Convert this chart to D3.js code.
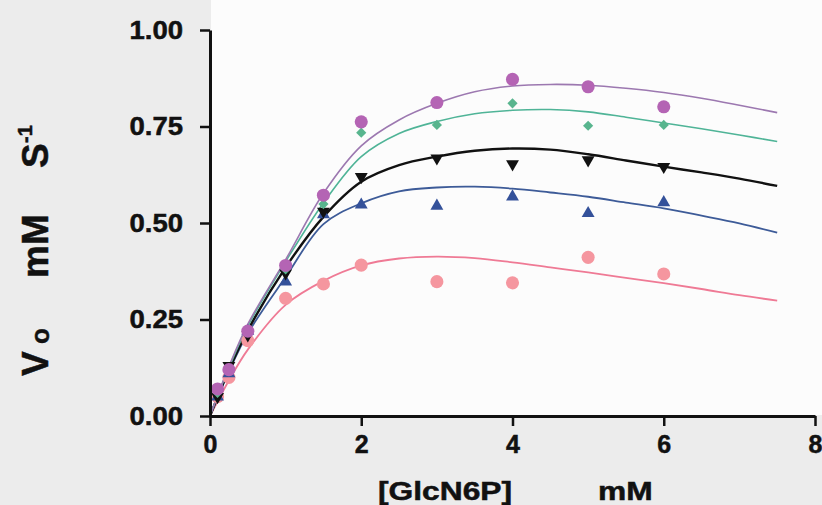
<!DOCTYPE html>
<html>
<head>
<meta charset="utf-8">
<script src="https://cdn.jsdelivr.net/npm/d3@7"></script>
<style>
  html, body { margin: 0; padding: 0; background: #ececec; }
  svg { display: block; }
  text { font-family: "Liberation Sans", Arial, Helvetica, sans-serif; font-weight: bold; fill: #111; stroke: #111; stroke-width: 0.5px; }
</style>
</head>
<body>
<svg id="chart" width="822" height="505"></svg>
<script>
// GlcN6P concentration (mM) at which initial rates were measured
const concentrations = [0.1, 0.25, 0.5, 1, 1.5, 2, 3, 4, 5, 6];

// Measured initial rates (mM S-1), one array per series
const ratesPurple = [0.07, 0.12, 0.22, 0.39, 0.572, 0.762, 0.812, 0.872, 0.853, 0.801];
const ratesGreen  = [0.06, 0.12, 0.22, 0.38, 0.549, 0.734, 0.754, 0.810, 0.752, 0.754];
const ratesBlack  = [0.05, 0.13, 0.21, 0.37, 0.530, 0.620, 0.668, 0.653, 0.663, 0.646];
const ratesBlue   = [0.05, 0.11, 0.22, 0.348, 0.522, 0.547, 0.544, 0.568, 0.525, 0.553];
const ratesPink   = [0.05, 0.10, 0.195, 0.305, 0.342, 0.391, 0.348, 0.345, 0.411, 0.368];

// Fitted curves, sampled along the concentration axis
const fitX      = [0, 0.25, 0.5, 1, 1.5, 2, 2.5, 3, 3.5, 4, 4.5, 5, 5.5, 6, 6.5, 7, 7.5];
const fitPurple = [0, 0.128, 0.238, 0.405, 0.577, 0.700, 0.767, 0.810, 0.840, 0.855, 0.859, 0.857, 0.849, 0.838, 0.823, 0.805, 0.786];
const fitGreen  = [0, 0.125, 0.233, 0.400, 0.552, 0.672, 0.732, 0.763, 0.783, 0.792, 0.794, 0.788, 0.774, 0.759, 0.744, 0.728, 0.711];
const fitBlack  = [0, 0.120, 0.222, 0.385, 0.516, 0.607, 0.650, 0.672, 0.687, 0.693, 0.690, 0.678, 0.662, 0.646, 0.631, 0.615, 0.596];
const fitBlue   = [0, 0.115, 0.214, 0.360, 0.497, 0.551, 0.582, 0.592, 0.594, 0.589, 0.579, 0.568, 0.553, 0.538, 0.519, 0.499, 0.475];
const fitPink   = [0, 0.092, 0.172, 0.288, 0.350, 0.390, 0.408, 0.413, 0.409, 0.398, 0.385, 0.372, 0.358, 0.344, 0.329, 0.313, 0.299];

// Axis ticks
const xTicks = [0, 2, 4, 6, 8];
const yTicks = [0, 0.25, 0.5, 0.75, 1];

const series = [
  { rates: ratesPink,   fit: fitPink,   marker: "#f5969f", line: "#ef7a95", width: 1.8, shape: "circle" },
  { rates: ratesBlue,   fit: fitBlue,   marker: "#34519a", line: "#3d5b98", width: 1.8, shape: "up" },
  { rates: ratesBlack,  fit: fitBlack,  marker: "#111111", line: "#111111", width: 2.4, shape: "down" },
  { rates: ratesGreen,  fit: fitGreen,  marker: "#58b58e", line: "#4fb497", width: 1.6, shape: "diamond" },
  { rates: ratesPurple, fit: fitPurple, marker: "#b464b4", line: "#9c78b0", width: 1.6, shape: "circle" }
];

const svg = d3.select("#chart");

const x = d3.scaleLinear().domain([0, 8]).range([210, 815]);
const y = d3.scaleLinear().domain([0, 1]).range([416, 30]);

// Plot panel
svg.append("rect")
  .attr("x", 211).attr("y", 0)
  .attr("width", 822 - 211).attr("height", 415)
  .attr("fill", "#fcfcfc");

// Fitted curves
const line = d3.line()
  .x(d => x(d[0]))
  .y(d => y(d[1]))
  .curve(d3.curveCatmullRom.alpha(0.5));

series.forEach(s => {
  svg.append("path")
    .datum(fitX.map((v, i) => [v, s.fit[i]]))
    .attr("fill", "none")
    .attr("stroke", s.line)
    .attr("stroke-width", s.width)
    .attr("d", line);
});

// Measured points
const symbolFor = {
  circle:  d3.symbol().type(d3.symbolCircle).size(135),
  up:      d3.symbol().type(d3.symbolTriangle).size(72),
  down:    d3.symbol().type(d3.symbolTriangle).size(72),
  diamond: d3.symbol().type(d3.symbolSquare).size(52)
};
const rotationFor = { circle: 0, up: 0, down: 180, diamond: 45 };

series.forEach(s => {
  svg.append("g")
    .selectAll("path")
    .data(concentrations.map((c, i) => [c, s.rates[i]]))
    .join("path")
    .attr("d", symbolFor[s.shape]())
    .attr("fill", s.marker)
    .attr("transform", d => `translate(${x(d[0])},${y(d[1])}) rotate(${rotationFor[s.shape]})`);
});

// Y axis
const yAxis = svg.append("g")
  .attr("transform", "translate(210,0)")
  .call(d3.axisLeft(y)
    .tickValues(yTicks)
    .tickFormat(d3.format(".2f"))
    .tickSize(10)
    .tickSizeOuter(0)
    .tickPadding(14.5));
yAxis.select(".domain").attr("stroke", "#111").attr("stroke-width", 3);
yAxis.selectAll(".tick line").attr("stroke", "#111").attr("stroke-width", 2.5);
yAxis.selectAll(".tick text")
  .attr("font-size", 25)
  .attr("fill", "#111")
  .attr("transform", "scale(1.1,1)");

// X axis
const xAxis = svg.append("g")
  .attr("transform", "translate(0,416)")
  .call(d3.axisBottom(x)
    .tickValues(xTicks)
    .tickFormat(d3.format("d"))
    .tickSize(10)
    .tickSizeOuter(0)
    .tickPadding(9));
xAxis.select(".domain").attr("stroke", "#111").attr("stroke-width", 3);
xAxis.selectAll(".tick line").attr("stroke", "#111").attr("stroke-width", 2.5);
xAxis.selectAll(".tick text")
  .attr("font-size", 25)
  .attr("fill", "#111");

// X axis title
svg.append("text")
  .attr("transform", "translate(378,500) scale(1.27,1)")
  .attr("font-size", 25)
  .text("[GlcN6P]");
svg.append("text")
  .attr("transform", "translate(598,500) scale(1.27,1)")
  .attr("font-size", 25)
  .text("mM");

// Y axis title, rotated
const yTitle = svg.append("g").attr("transform", "translate(48,0) rotate(-90)");
yTitle.append("text").attr("x", -376).attr("y", 0).attr("font-size", 37).text("V");
yTitle.append("text").attr("x", -344).attr("y", 1).attr("font-size", 26).text("o");
yTitle.append("text").attr("x", -278).attr("y", 0).attr("font-size", 37).text("mM");
yTitle.append("text").attr("x", -168).attr("y", 0).attr("font-size", 37).text("S");
yTitle.append("text").attr("x", -143).attr("y", -16).attr("font-size", 20).text("-1");
</script>
</body>
</html>
